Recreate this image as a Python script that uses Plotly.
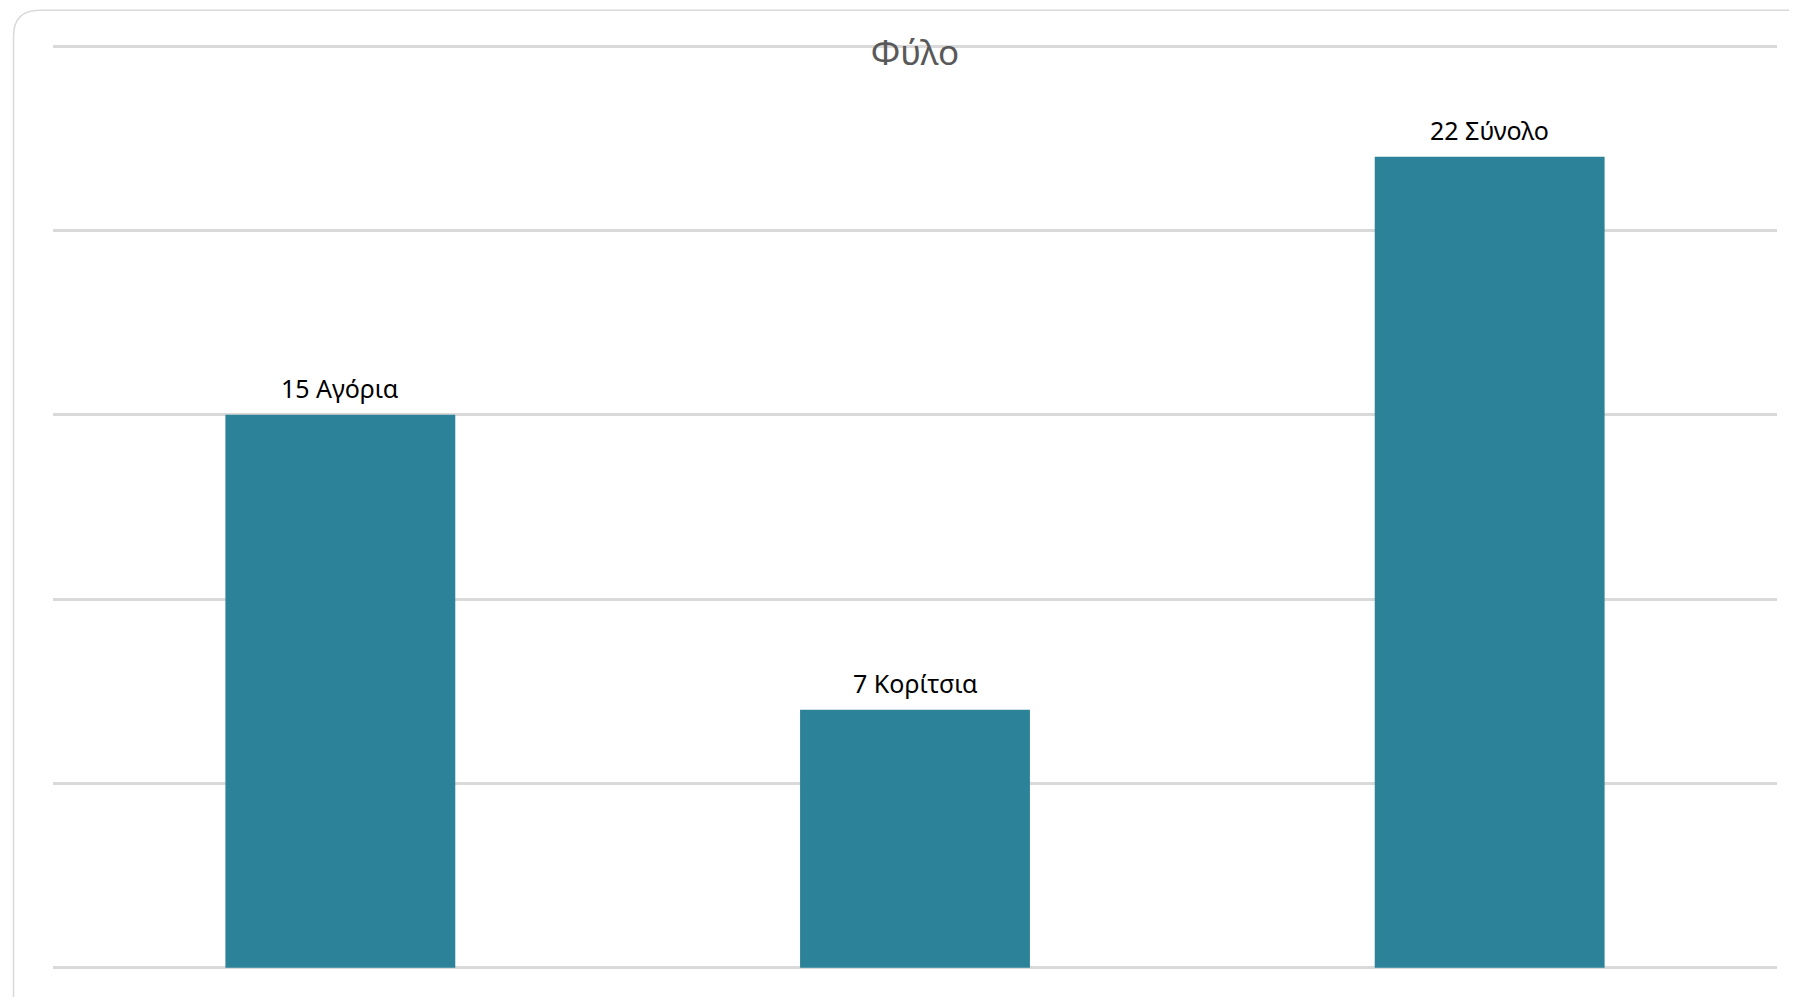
import plotly.graph_objects as go

categories = ["Αγόρια", "Κορίτσια", "Σύνολο"]
values = [15, 7, 22]
labels = [f"{v} {c}" for v, c in zip(values, categories)]
y_ticks = [0, 5, 10, 15, 20, 25]

# page has an 8px body margin, so the figure is placed at (8, 8)
OFF = 8
PAD_U = 0.06                      # small range padding so edge gridlines are drawn
PX_PER_U = 922 / 25
PAD_PX = PAD_U * PX_PER_U
W, H = 1797 - OFF, 997 - OFF
ML, MR, MT, MB = 52.5 - OFF, 19.5, 46 - OFF - PAD_PX, 29 - PAD_PX
PW, PH = W - ML - MR, H - MT - MB


def px_x(px):
    return (px - OFF - ML) / PW


def px_y(py):
    return (H - MB - (py - OFF)) / PH


fig = go.Figure()
fig.add_trace(go.Bar(
    x=categories,
    y=values,
    marker=dict(color="#2C8399", line=dict(width=0)),
    cliponaxis=False,
    width=0.4,
    hoverinfo="skip",
))

for c, v, t in zip(categories, values, labels):
    fig.add_annotation(x=c, y=v, text=t, showarrow=False,
                       xanchor="center", yanchor="middle", yshift=27,
                       font=dict(family="Noto Sans", size=25, color="#000000"))

# rounded outer frame (extends beyond right and bottom edges)
x0, y0, x1, y1, r = 13, 10, 1840, 1010, 26
path = (
    f"M {px_x(x0)},{px_y(y1)} "
    f"L {px_x(x0)},{px_y(y0 + r)} "
    f"Q {px_x(x0)},{px_y(y0)} {px_x(x0 + r)},{px_y(y0)} "
    f"L {px_x(x1)},{px_y(y0)}"
)
fig.add_shape(type="path", path=path, xref="paper", yref="paper",
              line=dict(color="#d9d9d9", width=1.5), layer="below")

fig.update_layout(
    width=W, height=H,
    margin=dict(l=ML, r=MR, t=MT, b=MB, pad=0),
    paper_bgcolor="white", plot_bgcolor="white",
    showlegend=False,
    title=dict(text="Φύλο", x=0.5, xref="paper", xanchor="center",
               y=1 - (53 - OFF) / H, yref="container", yanchor="middle",
               font=dict(family="Noto Sans", size=35, color="#595959")),
    xaxis=dict(showticklabels=False, showgrid=False, zeroline=False,
               showline=False, ticks=""),
    yaxis=dict(range=[-PAD_U, 25 + PAD_U], tickvals=y_ticks, showticklabels=False,
               showgrid=True, gridcolor="#d9d9d9", gridwidth=2.5,
               zeroline=False, showline=False, ticks=""),
)

fig.write_html("out.html")
